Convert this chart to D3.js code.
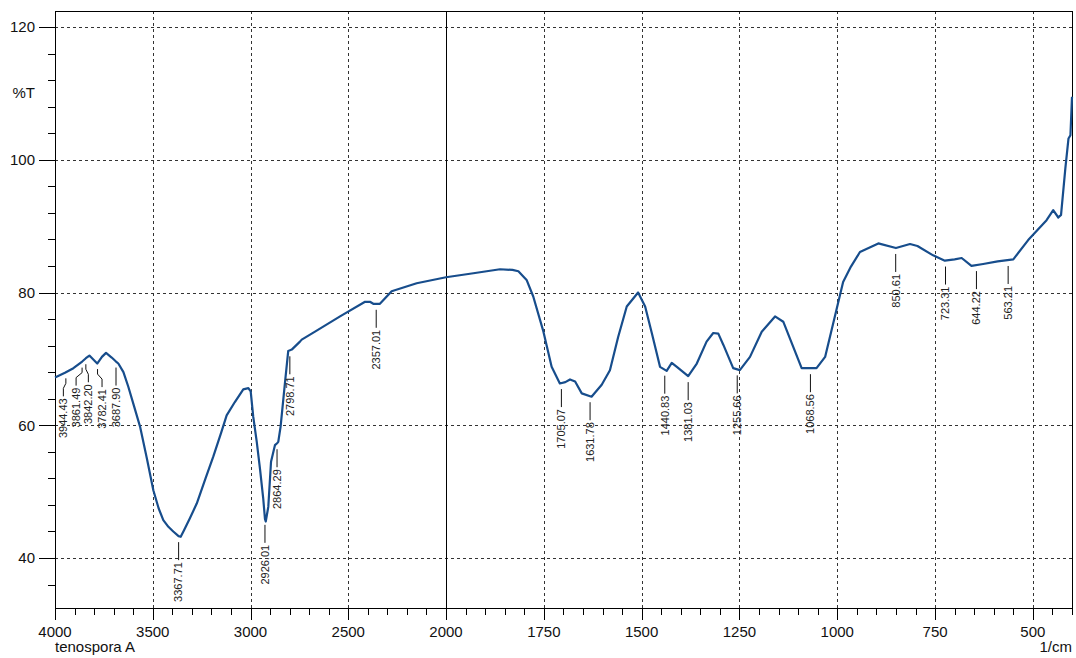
<!DOCTYPE html>
<html><head><meta charset="utf-8">
<script src="https://cdn.jsdelivr.net/npm/d3@7"></script>
<style>
html,body{margin:0;padding:0;background:#fff;}
svg{display:block;font-family:"Liberation Sans",Arial,sans-serif;}
</style></head>
<body><svg id="c" width="1076" height="658"></svg>
<script>
// ---- data ----
const wavenumbers = [4000,3949,3906,3861,3842,3824,3784,3760,3739,3710,3688,3676,3650,3625,3595,3565,3530,3497,3470,3446,3420,3395,3368,3357,3340,3310,3275,3230,3190,3150,3122,3080,3037,3011,2999,2986,2968,2951,2935,2926,2922,2909,2895,2875,2864,2858,2846,2824,2807,2789,2747,2738,2670,2542,2414,2389,2372,2338,2278,2150,2000,1930,1862,1830,1815,1794,1777,1751,1730,1709,1695,1683,1670,1653,1628,1602,1581,1560,1538,1509,1491,1474,1453,1436,1423,1410,1381,1359,1334,1317,1304,1291,1266,1249,1223,1193,1159,1138,1091,1053,1031,1002,985,965,942,895,850,814,795,755,725,700,682,657,627,590,550,512,465,448,435,428,417,409,404,400];
const transmittance = [67.2,67.9,68.6,69.6,70.1,70.5,69.3,70.3,70.9,70.2,69.6,69.3,68.0,65.8,62.8,59.8,55.0,50.2,47.5,45.7,44.7,44.0,43.3,43.2,44.2,46.0,48.2,52.0,55.3,58.9,61.5,63.5,65.4,65.6,65.1,61.3,57.5,53.3,49.0,45.9,45.5,47.7,54.5,57.0,57.3,57.5,59.8,66.3,71.2,71.4,72.6,72.9,74.1,76.4,78.6,78.6,78.3,78.3,80.2,81.4,82.3,82.9,83.5,83.4,83.2,81.9,79.4,74.1,68.8,66.3,66.5,66.9,66.6,64.8,64.3,66.1,68.3,73.3,77.9,80.0,77.9,73.9,68.8,68.2,69.4,68.8,67.4,69.3,72.6,73.9,73.8,72.1,68.6,68.3,70.3,74.1,76.4,75.6,68.6,68.6,70.3,77.4,81.6,83.9,86.1,87.4,86.7,87.3,87.0,85.6,84.8,85.0,85.2,84.0,84.3,84.7,85.0,87.9,90.9,92.4,91.3,91.7,98.7,103.2,103.7,109.5];
const peakLabels = ["3944.43","3861.49","3842.20","3782.41","3687.90","3367.71","2926.01","2864.29","2798.71","2357.01","1705.07","1631.78","1440.83","1381.03","1255.66","1068.56","850.61","723.31","644.22","563.21"];
const xTickValues = [4000,3500,3000,2500,2000,1750,1500,1250,1000,750,500];
const yTickValues = [40,60,80,100,120];
const yAxisTitle = "%T";
const xAxisTitle = "1/cm";
const sampleName = "tenospora A";

// ---- layout ----
const L = 55, R = 1072, T = 11, B = 608;
// label text offsets for the crowded group (pixels)
const labelShift = {"3944.43":-2.5,"3861.49":-6,"3842.20":2.5,"3782.41":4.5,"3687.90":0};

const svg = d3.select("#c");
const x = d3.scaleLinear().domain([4000,2000,400]).range([L,446,R]);
const y = d3.scaleLinear().domain([32.47,122.41]).range([B,T]);

// grid
const grid = svg.append("g");
xTickValues.filter(v=>v!==4000 && v!==2000).forEach(v=>{
  grid.append("line").attr("x1",Math.round(x(v))+0.5).attr("x2",Math.round(x(v))+0.5)
   .attr("y1",T).attr("y2",B).attr("stroke","#333").attr("stroke-width",1).attr("stroke-dasharray","3,3");
});
yTickValues.forEach(v=>{
  grid.append("line").attr("y1",Math.round(y(v))+0.5).attr("y2",Math.round(y(v))+0.5)
   .attr("x1",L).attr("x2",R).attr("stroke","#333").attr("stroke-width",1).attr("stroke-dasharray","3,3");
});
// solid 2000 line
grid.append("line").attr("x1",Math.round(x(2000))+0.5).attr("x2",Math.round(x(2000))+0.5)
  .attr("y1",T).attr("y2",B).attr("stroke","#000").attr("stroke-width",1);

// frame
svg.append("rect").attr("x",L+0.5).attr("y",T+0.5).attr("width",R-L).attr("height",B-T)
  .attr("fill","none").attr("stroke","#000").attr("stroke-width",1);

// y axis ticks
const yMinor = d3.range(36,121,4);
const ya = svg.append("g");
yMinor.forEach(v=>{
  const major = yTickValues.includes(v);
  ya.append("line").attr("x1",major?39:48).attr("x2",L).attr("y1",Math.round(y(v))+0.5).attr("y2",Math.round(y(v))+0.5)
    .attr("stroke","#000").attr("stroke-width",1);
});
yTickValues.forEach(v=>{
  ya.append("text").attr("x",35).attr("y",y(v)).attr("dy","0.35em").attr("text-anchor","end")
    .attr("font-size",15).attr("fill","#111").text(v);
});
ya.append("text").attr("x",35).attr("y",93).attr("dy","0.35em").attr("text-anchor","end")
  .attr("font-size",15).attr("fill","#111").text(yAxisTitle);

// x axis ticks
const xa = svg.append("g");
const minorHi = d3.range(4000,2000,-100);
const minorLo = d3.range(2000,399,-50);
minorHi.concat(minorLo).forEach(v=>{
  const major = xTickValues.includes(v);
  xa.append("line").attr("x1",Math.round(x(v))+0.5).attr("x2",Math.round(x(v))+0.5)
    .attr("y1",B).attr("y2",major?620:615).attr("stroke","#000").attr("stroke-width",1);
});
xTickValues.forEach(v=>{
  xa.append("text").attr("x",x(v)).attr("y",632).attr("dy","0.35em").attr("text-anchor","middle")
    .attr("font-size",15).attr("fill","#111").text(v);
});
xa.append("text").attr("x",55).attr("y",647).attr("dy","0.35em").attr("font-size",15).attr("fill","#111").text(sampleName);
xa.append("text").attr("x",R).attr("y",647).attr("dy","0.35em").attr("text-anchor","end").attr("font-size",15).attr("fill","#111").text(xAxisTitle);

// curve
const pts = wavenumbers.map((w,i)=>[w,transmittance[i]]);
svg.append("path").datum(pts)
  .attr("d",d3.line().x(d=>x(d[0])).y(d=>y(d[1])))
  .attr("fill","none").attr("stroke","#174d8c").attr("stroke-width",2.2).attr("stroke-linejoin","round");

// peak labels
const interp = w => {
  for(let i=0;i<wavenumbers.length-1;i++){
    const a=wavenumbers[i], b=wavenumbers[i+1];
    if(w<=a && w>=b){ const t=(a-w)/(a-b); return transmittance[i]+t*(transmittance[i+1]-transmittance[i]); }
  }
  return transmittance[transmittance.length-1];
};
const lg = svg.append("g");
peakLabels.forEach(s=>{
  const w = +s;
  const xd = x(w);
  const y0 = y(interp(w)) + 6;
  const sh = labelShift[s] || 0;
  const xt = xd + sh;
  const yText = y0 + 20;
  const p = sh===0 ? `M${xd},${y0}L${xd},${yText-2}` : `M${xd},${y0}L${xd},${y0+5}L${xt},${y0+10}L${xt},${yText-2}`;
  lg.append("path").attr("d",p).attr("fill","none").attr("stroke","#111").attr("stroke-width",1);
  lg.append("text").attr("transform",`translate(${xt},${yText}) rotate(-90)`)
    .attr("dy","0.35em").attr("text-anchor","end").attr("font-size",11).attr("fill","#222").text(s);
});
</script></body></html>
